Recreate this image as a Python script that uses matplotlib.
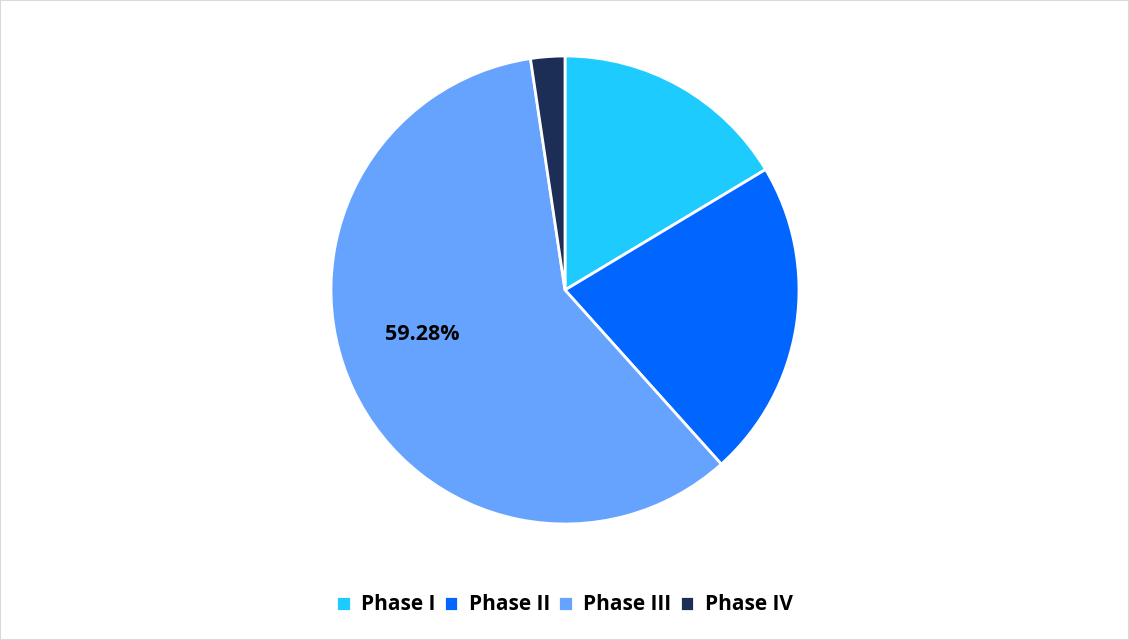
import matplotlib.pyplot as plt
from matplotlib.patches import Rectangle

phases = ['Phase I', 'Phase II', 'Phase III', 'Phase IV']
shares = [16.39, 21.97, 59.28, 2.36]
colors = ['#1ECBFF', '#0066FF', '#66A3FF', '#1C2E55']
shown = 'Phase III'  # only this slice carries a label

plt.rcParams['font.family'] = ['Open Sans', 'DejaVu Sans']

fig = plt.figure(figsize=(11.29, 6.40), dpi=100)
# pie centre ~ (565, 290) px, radius ~234 px
ax = fig.add_axes([(565 - 234) / 1129, (640 - 290 - 234) / 640, 468 / 1129, 468 / 640])

wedges, texts, autotexts = ax.pie(
    shares, colors=colors, startangle=90, counterclock=False,
    autopct='%.2f%%', pctdistance=0.64,
    wedgeprops=dict(edgecolor='white', linewidth=2),
    textprops=dict(fontsize=15.5, fontweight='bold', color='black'))

for name, t in zip(phases, autotexts):
    if name != shown:
        t.set_visible(False)
    else:
        t.set_position((-0.61, -0.19))

ax.set_xlim(-1, 1)
ax.set_ylim(-1, 1)
ax.set_aspect('equal')
ax.axis('off')

fig.legend(wedges, phases, loc='center', bbox_to_anchor=(0.5, 1 - 605 / 640),
           ncol=4, frameon=False, prop=dict(weight='bold', size=15),
           handlelength=0.7, handleheight=0.7, handletextpad=0.5, columnspacing=0.4)

fig.patches.append(Rectangle((0, 0), 1, 1, transform=fig.transFigure,
                             fill=False, edgecolor='#D9D9D9', linewidth=1.5))

plt.savefig('out.png', dpi=100)
